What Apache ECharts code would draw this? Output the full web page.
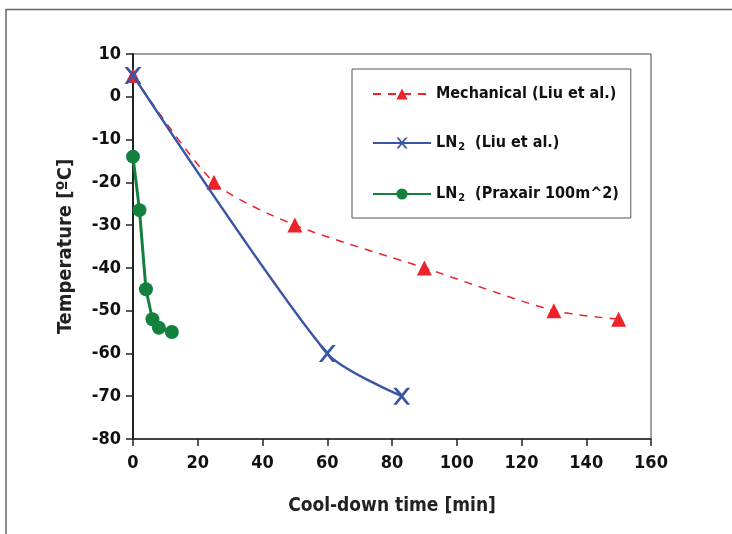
<!DOCTYPE html>
<html>
<head>
<meta charset="utf-8">
<script src="https://cdn.jsdelivr.net/npm/echarts@6/dist/echarts.min.js"></script>
<style>
html,body{margin:0;padding:0;background:#fff;}
#chart{width:732px;height:534px;}
</style>
</head>
<body>
<div id="chart"></div>
<script>
// Data
var mechX = [0, 25, 50, 90, 130, 150];
var mechY = [5, -20, -30, -40, -50, -52];
var liuX = [0, 60, 83];
var liuY = [5, -60, -70];
var praxX = [0, 2, 4, 6, 8, 12];
var praxY = [-14, -26.5, -45, -52, -54, -55];
var seriesNames = ['Mechanical (Liu et al.)', 'LN2  (Liu et al.)', 'LN2  (Praxair 100m^2)'];
var xTicks = [0, 20, 40, 60, 80, 100, 120, 140, 160];
var yTicks = [10, 0, -10, -20, -30, -40, -50, -60, -70, -80];

function pairs(xs, ys) { return xs.map(function (x, i) { return [x, ys[i]]; }); }

var FONT = '"Liberation Sans Narrow", "Arial Narrow", "DejaVu Sans Condensed", sans-serif';
var chart = echarts.init(document.getElementById('chart'), null, { renderer: 'canvas' });

var option = {
  backgroundColor: '#ffffff',
  animation: false,
  textStyle: { fontFamily: FONT },
  graphic: [{
    type: 'rect', z: -10,
    shape: { x: 6, y: 9.5, width: 900, height: 700 },
    style: { fill: 'none', stroke: '#666', lineWidth: 1.5 }
  }],
  grid: {
    left: 133, top: 54, width: 518, height: 385,
    show: true, borderColor: '#444', borderWidth: 1, backgroundColor: 'transparent'
  },
  legend: {
    left: 352, top: 69,
    orient: 'vertical',
    padding: [17, 12, 14, 20],
    itemGap: 33,
    itemWidth: 58, itemHeight: 14,
    borderColor: '#555', borderWidth: 1,
    backgroundColor: '#fff',
    data: seriesNames,
    formatter: function (name) {
      if (name.indexOf('LN2') === 0) {
        return '{b|LN}{s|2}{b|' + name.slice(3) + '}';
      }
      return '{b|' + name + '}';
    },
    textStyle: {
      fontFamily: FONT, fontWeight: 'bold', fontSize: 16, color: '#111',
      rich: {
        b: { fontFamily: FONT, fontWeight: 'bold', fontSize: 16, color: '#111', lineHeight: 20 },
        s: { fontFamily: FONT, fontWeight: 'bold', fontSize: 11, color: '#111', lineHeight: 20, verticalAlign: 'bottom', padding: [6, 0, 0, 1] }
      }
    }
  },
  xAxis: {
    type: 'value', min: 0, max: 160, interval: 20,
    name: 'Cool-down time [min]', nameLocation: 'middle', nameGap: 58,
    nameTextStyle: { fontFamily: FONT, fontWeight: 'bold', fontSize: 19, color: '#222' },
    axisLine: { show: true, onZero: false, lineStyle: { color: '#222', width: 1.5 } },
    axisTick: { show: true, inside: false, length: 7, lineStyle: { color: '#222', width: 1.5 } },
    axisLabel: { fontFamily: FONT, fontWeight: 'bold', fontSize: 18, color: '#111', margin: 15,
      formatter: function (v) { return xTicks.indexOf(v) >= 0 ? String(v) : ''; } },
    splitLine: { show: false }
  },
  yAxis: {
    type: 'value', min: -80, max: 10, interval: 10,
    name: 'Temperature [ºC]', nameLocation: 'middle', nameGap: 57, nameRotate: 90,
    nameTextStyle: { fontFamily: FONT, fontWeight: 'bold', fontSize: 20, color: '#222' },
    axisLine: { show: true, onZero: false, lineStyle: { color: '#222', width: 2 } },
    axisTick: { show: true, inside: false, length: 7, lineStyle: { color: '#222', width: 1.5 } },
    axisLabel: { fontFamily: FONT, fontWeight: 'bold', fontSize: 18, color: '#111', margin: 12,
      formatter: function (v) { return yTicks.indexOf(v) >= 0 ? String(v) : ''; } },
    splitLine: { show: false }
  },
  series: [
    {
      name: seriesNames[0], type: 'line', data: pairs(mechX, mechY),
      smooth: 0.25, symbol: 'triangle', symbolSize: 15,
      itemStyle: { color: '#ee2229' },
      lineStyle: { color: '#ee2229', width: 1.5, type: [8, 7] }, z: 3
    },
    {
      name: seriesNames[1], type: 'line', data: pairs(liuX, liuY),
      smooth: 0.25, symbol: 'path://M0,0 L2,0 L5,3.6 L8,0 L10,0 L6,5 L10,10 L8,10 L5,6.4 L2,10 L0,10 L4,5 Z', symbolSize: 17,
      itemStyle: { color: '#3a55a6' },
      lineStyle: { color: '#3a55a6', width: 2.5 }, z: 4
    },
    {
      name: seriesNames[2], type: 'line', data: pairs(praxX, praxY),
      smooth: false, symbol: 'circle', symbolSize: 14,
      itemStyle: { color: '#13803e' },
      lineStyle: { color: '#13803e', width: 3 }, z: 5
    }
  ]
};
chart.setOption(option);
</script>
</body>
</html>
